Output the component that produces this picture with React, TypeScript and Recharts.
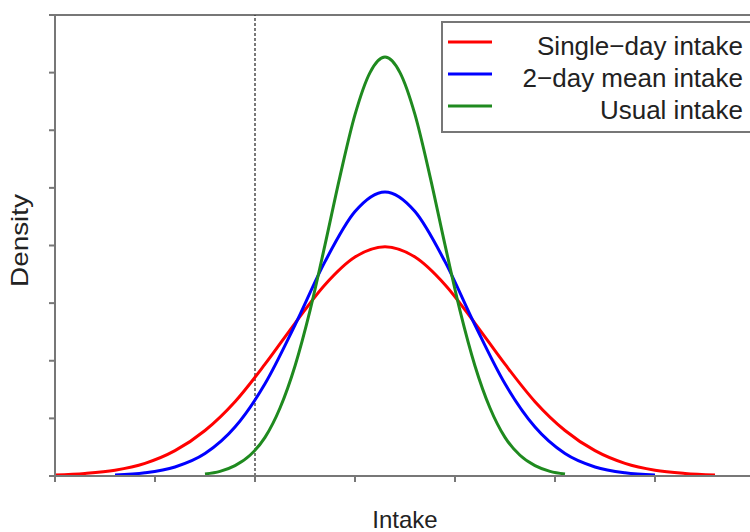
import React from "react"
import { LineChart, Line, XAxis, YAxis, ReferenceLine, Legend } from "recharts"

// series names, in legend order
const seriesNames = ["Single−day intake", "2−day mean intake", "Usual intake"]
const seriesColors = ["#ff0000", "#0000ff", "#1f8a1f"]

// single-day intake density
const singleDayX = [0, 0.3, 0.6, 0.9, 1.2, 1.5, 1.8, 2.1, 2.4, 2.7, 3.0, 3.3, 3.6, 3.9, 4.2, 4.5, 4.8, 5.1, 5.4, 5.7, 6.0, 6.3, 6.6]
const singleDayY = [0.017, 0.044, 0.1, 0.22, 0.44, 0.79, 1.29, 1.94, 2.65, 3.32, 3.8, 3.98, 3.8, 3.32, 2.65, 1.94, 1.29, 0.79, 0.44, 0.22, 0.1, 0.044, 0.017]

// 2-day mean intake density
const twoDayX = [0.6, 0.9, 1.2, 1.5, 1.8, 2.1, 2.4, 2.7, 3.0, 3.3, 3.6, 3.9, 4.2, 4.5, 4.8, 5.1, 5.4, 5.7, 6.0]
const twoDayY = [0.017, 0.055, 0.157, 0.39, 0.85, 1.6, 2.62, 3.72, 4.59, 4.93, 4.59, 3.72, 2.62, 1.6, 0.85, 0.39, 0.157, 0.055, 0.017]

// usual intake density
const usualX = [1.5, 1.65, 1.8, 1.95, 2.1, 2.25, 2.4, 2.55, 2.7, 2.85, 3.0, 3.15, 3.3, 3.45, 3.6, 3.75, 3.9, 4.05, 4.2, 4.35, 4.5, 4.65, 4.8, 4.95, 5.1]
const usualY = [0.034, 0.081, 0.18, 0.36, 0.67, 1.18, 1.91, 2.87, 4.01, 5.2, 6.27, 7.0, 7.27, 7.0, 6.27, 5.2, 4.01, 2.87, 1.91, 1.18, 0.67, 0.36, 0.18, 0.081, 0.034]

// axis ticks (no labels are printed)
const xTicks = [0, 1, 2, 3, 4, 5, 6, 7]
const yTicks = [0, 1, 2, 3, 4, 5, 6, 7, 8]
const cutoff = 2.0

const toPoints = (xs: number[], ys: number[]) => xs.map((x, i) => ({ x, y: ys[i] }))

const FONT = "'Liberation Sans', Arial, Helvetica, sans-serif"
const AXIS = "#777"

// tick marks only, no tick text
const NoLabel = () => <g />

function IntakeTitle(props: any) {
  const vb = props.viewBox || { x: 55, y: 476, width: 700, height: 56 }
  return (
    <text x={vb.x + vb.width / 2} y={vb.y + 52} textAnchor="middle" fontSize={24} fontFamily={FONT} fill="#222">
      Intake
    </text>
  )
}

function DensityTitle(props: any) {
  const vb = props.viewBox || { x: 0, y: 15, width: 55, height: 461 }
  const cx = vb.x + 28
  const cy = vb.y + vb.height / 2 - 5
  return (
    <text
      x={cx}
      y={cy}
      transform={`rotate(-90, ${cx}, ${cy})`}
      textAnchor="middle"
      fontSize={24}
      fontFamily={FONT}
      fill="#222"
      textLength={93}
      lengthAdjust="spacingAndGlyphs"
    >
      Density
    </text>
  )
}

function LegendBox(props: any) {
  const payload: any[] = props.payload || []
  const rows = seriesNames.map((n) => payload.find((p) => p.value === n)).filter(Boolean)
  return (
    <svg width={320} height={114} style={{ display: "block" }}>
      <rect x={1} y={1} width={340} height={110} fill="#fff" stroke={AXIS} strokeWidth={2} />
      {rows.map((p, i) => (
        <g key={p.value}>
          <line x1={7} x2={51} y1={21 + 32 * i} y2={21 + 32 * i} stroke={p.color} strokeWidth={3} />
          <text x={302} y={34 + 32 * i} textAnchor="end" fontSize={26} fontFamily={FONT} fill="#222">
            {p.value}
          </text>
        </g>
      ))}
    </svg>
  )
}

export default function App() {
  const series = [toPoints(singleDayX, singleDayY), toPoints(twoDayX, twoDayY), toPoints(usualX, usualY)]
  return (
    <div style={{ position: "absolute", left: 0, top: 0, width: 750, height: 532, overflow: "hidden", background: "#fff" }}>
      <LineChart width={760} height={532} margin={{ top: 15, right: 5, bottom: 0, left: 0 }}>
        <XAxis
          dataKey="x"
          type="number"
          domain={[0, 7]}
          ticks={xTicks}
          allowDataOverflow
          interval={0}
          tick={<NoLabel />}
          tickSize={6}
          height={56}
          stroke={AXIS}
          strokeWidth={2}
          tickLine={{ stroke: AXIS, strokeWidth: 2 }}
          label={<IntakeTitle />}
        />
        <YAxis
          type="number"
          domain={[0, 8]}
          ticks={yTicks}
          allowDataOverflow
          interval={0}
          tick={<NoLabel />}
          tickSize={6}
          width={55}
          stroke={AXIS}
          strokeWidth={2}
          tickLine={{ stroke: AXIS, strokeWidth: 2 }}
          label={<DensityTitle />}
        />
        <ReferenceLine y={8} stroke={AXIS} strokeWidth={2} />
        <ReferenceLine x={cutoff} stroke="#333" strokeWidth={1.3} strokeDasharray="3 2" />
        {series.map((pts, i) => (
          <Line
            key={seriesNames[i]}
            data={pts}
            dataKey="y"
            name={seriesNames[i]}
            type="monotone"
            stroke={seriesColors[i]}
            strokeWidth={3}
            dot={false}
            activeDot={false}
            isAnimationActive={false}
          />
        ))}
        <Legend
          layout="horizontal"
          verticalAlign="middle"
          align="center"
          content={<LegendBox />}
          wrapperStyle={{ left: 441, top: 21, width: 320 }}
        />
      </LineChart>
    </div>
  )
}
